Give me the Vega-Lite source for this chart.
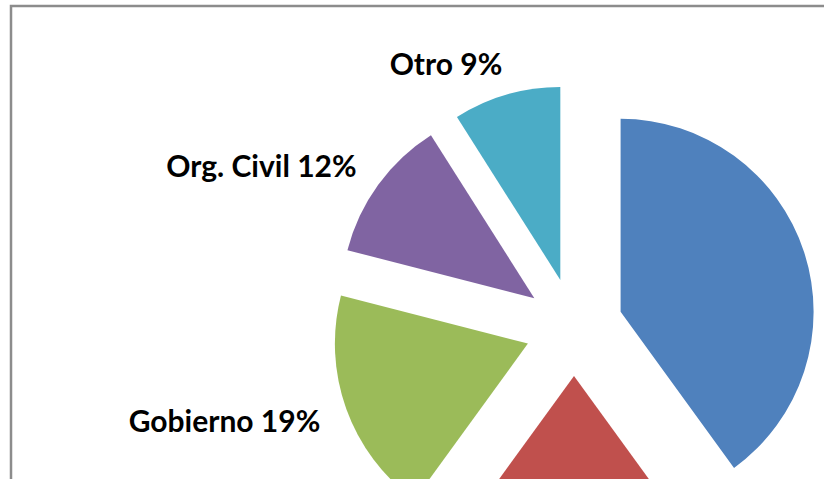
{
  "$schema": "https://vega.github.io/schema/vega-lite/v6.json",
  "width": 816,
  "height": 476,
  "autosize": {"type": "none"},
  "padding": {"left": 11, "top": 6, "right": -3, "bottom": -3},
  "background": "white",
  "view": {"stroke": "#8c8c8c", "strokeWidth": 2.5},
  "data": {"values": [
    {"orden": 1, "sector": "Sector azul", "valor": 40, "etiqueta": ""},
    {"orden": 2, "sector": "Sector rojo", "valor": 20, "etiqueta": ""},
    {"orden": 3, "sector": "Gobierno", "valor": 19, "etiqueta": "Gobierno 19%"},
    {"orden": 4, "sector": "Org. Civil", "valor": 12, "etiqueta": "Org. Civil 12%"},
    {"orden": 5, "sector": "Otro", "valor": 9, "etiqueta": "Otro 9%"}
  ]},
  "transform": [
    {"window": [{"op": "sum", "field": "valor", "as": "acum"}], "sort": [{"field": "orden"}], "frame": [null, 0]},
    {"joinaggregate": [{"op": "sum", "field": "valor", "as": "total"}]},
    {"calculate": "(datum.acum - datum.valor) / datum.total", "as": "ini"},
    {"calculate": "datum.acum / datum.total", "as": "fin"},
    {"calculate": "(datum.acum - datum.valor / 2) / datum.total", "as": "medio"}
  ],
  "layer": [
    {
      "mark": {
        "type": "arc",
        "radius": 193,
        "x": {"expr": "563 + 49 * sin(2 * PI * datum.medio)"},
        "y": {"expr": "321 - 49 * cos(2 * PI * datum.medio)"}
      },
      "encoding": {
        "theta": {"field": "ini", "type": "quantitative", "stack": null, "scale": {"domain": [0, 1], "range": [0, 6.283185307]}},
        "theta2": {"field": "fin"},
        "color": {
          "field": "sector",
          "type": "nominal",
          "scale": {
            "domain": ["Sector azul", "Sector rojo", "Gobierno", "Org. Civil", "Otro"],
            "range": ["#4F81BD", "#C0504D", "#9BBB59", "#8064A2", "#4BACC6"]
          },
          "legend": null
        }
      }
    },
    {
      "transform": [{"filter": "datum.etiqueta != ''"}],
      "mark": {
        "type": "text",
        "radius": 275,
        "x": 563,
        "y": 321,
        "dx": 5,
        "dy": 3,
        "align": "right",
        "baseline": "middle",
        "font": "Lato",
        "fontSize": 30,
        "fontWeight": "bold",
        "color": "black"
      },
      "encoding": {
        "theta": {"field": "medio", "type": "quantitative", "stack": null},
        "text": {"field": "etiqueta"}
      }
    }
  ]
}
